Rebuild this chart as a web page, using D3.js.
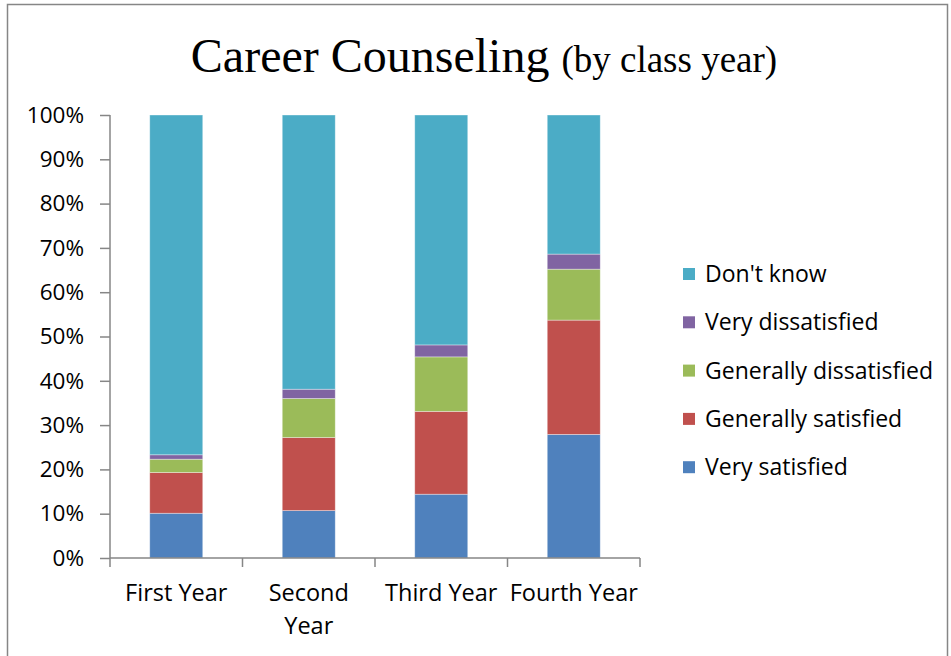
<!DOCTYPE html>
<html>
<head>
<meta charset="utf-8">
<script src="https://cdn.jsdelivr.net/npm/d3@7"></script>
<style>
  body { margin: 0; background: #fff; }
  svg text { fill: #000; }
</style>
</head>
<body>
<div id="chart"></div>
<script>
var years = ['First Year', 'Second Year', 'Third Year', 'Fourth Year'];
var yearLines = [['First Year'], ['Second', 'Year'], ['Third Year'], ['Fourth Year']];
var responses = ['Very satisfied', 'Generally satisfied', 'Generally dissatisfied', 'Very dissatisfied', "Don't know"];
var colors = ['#4F81BD', '#C0504D', '#9BBB59', '#8064A2', '#4BACC6'];

// percent per class year, bottom to top
var verySatisfied        = [10.1, 10.7, 14.4, 27.9];
var generallySatisfied   = [9.2, 16.5, 18.7, 25.8];
var generallyDissatisfied = [3.0, 8.8, 12.3, 11.5];
var veryDissatisfied     = [1.0, 2.1, 2.7, 3.4];
var dontKnow             = [76.7, 61.9, 51.9, 31.4];
var yTicks = [0, 10, 20, 30, 40, 50, 60, 70, 80, 90, 100];

var series = [verySatisfied, generallySatisfied, generallyDissatisfied, veryDissatisfied, dontKnow];

var width = 951, height = 656;
var margin = {left: 110, top: 115, right: 311, bottom: 98};
var plotW = width - margin.left - margin.right;
var plotH = height - margin.top - margin.bottom;
var labelFont = '"Open Sans", "Noto Sans", sans-serif';

var svg = d3.select('#chart').append('svg')
            .attr('width', width)
            .attr('height', height);

// outer frame
svg.append('rect')
   .attr('x', 7.5).attr('y', 4.5)
   .attr('width', 940).attr('height', 700)
   .attr('fill', 'none')
   .attr('stroke', '#868686')
   .attr('stroke-width', 1.5);

// title
var title = svg.append('text')
   .attr('x', 484).attr('y', 72)
   .attr('text-anchor', 'middle')
   .style('font-family', '"Liberation Serif", "Times New Roman", serif');
title.append('tspan').style('font-size', '48px').text('Career Counseling ');
title.append('tspan').style('font-size', '37px').text('(by class year)');

var table = years.map(function(y, i) {
  var row = {year: y};
  responses.forEach(function(r, k) { row[r] = series[k][i]; });
  return row;
});

var stack = d3.stack().keys(responses);
var layers = stack(table);

var x = d3.scaleBand()
          .domain(years)
          .range([0, plotW])
          .paddingInner(0.6)
          .paddingOuter(0.3);

var y = d3.scaleLinear()
          .domain([0, 100])
          .range([plotH, 0]);

var g = svg.append('g')
           .attr('transform', 'translate(' + margin.left + ',' + margin.top + ')');

// bars
g.selectAll('g.layer')
 .data(layers)
 .enter()
 .append('g')
 .attr('class', 'layer')
 .attr('fill', function(d, i) { return colors[i]; })
 .selectAll('rect')
 .data(function(d) { return d; })
 .enter()
 .append('rect')
 .attr('x', function(d) { return x(d.data.year); })
 .attr('y', function(d) { return y(d[1]); })
 .attr('width', x.bandwidth())
 .attr('height', function(d) { return y(d[0]) - y(d[1]); })
 .attr('stroke', 'rgba(255,255,255,0.45)')
 .attr('stroke-width', 0.8);

// y axis
var yAxis = d3.axisLeft(y)
              .tickValues(yTicks)
              .tickFormat(function(d) { return d + '%'; })
              .tickSize(10)
              .tickPadding(16);

var yg = g.append('g').call(yAxis);
yg.select('.domain').attr('stroke', '#868686').attr('stroke-width', 1.5)
  .attr('d', 'M0,' + plotH + 'V0');
yg.selectAll('.tick line').attr('stroke', '#868686').attr('stroke-width', 1.5);
yg.selectAll('.tick text')
  .style('font-family', labelFont)
  .style('font-size', '22.5px');

// x axis with ticks at category boundaries
var xg = g.append('g').attr('transform', 'translate(0,' + plotH + ')');
xg.append('line')
  .attr('x1', 0).attr('x2', plotW)
  .attr('stroke', '#868686').attr('stroke-width', 1.5);
var bounds = d3.range(years.length + 1).map(function(i) { return i * x.step(); });
xg.selectAll('line.bound')
  .data(bounds)
  .enter()
  .append('line')
  .attr('class', 'bound')
  .attr('x1', function(d) { return d; })
  .attr('x2', function(d) { return d; })
  .attr('y1', 0).attr('y2', 9)
  .attr('stroke', '#868686').attr('stroke-width', 1.5);

xg.selectAll('text.cat')
  .data(years)
  .enter()
  .append('text')
  .attr('class', 'cat')
  .attr('text-anchor', 'middle')
  .attr('transform', function(d) { return 'translate(' + (x(d) + x.bandwidth() / 2) + ',43)'; })
  .style('font-family', labelFont)
  .style('font-size', '23.5px')
  .selectAll('tspan')
  .data(function(d, i) { return yearLines[i]; })
  .enter()
  .append('tspan')
  .attr('x', 0)
  .attr('y', function(d, i) { return i * 33; })
  .text(function(d) { return d; });

// legend, top entry is the top of the stack
var legendOrder = responses.slice().reverse();
var legend = svg.append('g').attr('transform', 'translate(683,274)');
var items = legend.selectAll('g')
  .data(legendOrder)
  .enter()
  .append('g')
  .attr('transform', function(d, i) { return 'translate(0,' + (i * 48.3) + ')'; });
items.append('rect')
  .attr('x', 0).attr('y', -6)
  .attr('width', 12).attr('height', 12)
  .attr('fill', function(d) { return colors[responses.indexOf(d)]; });
items.append('text')
  .attr('x', 22).attr('y', 8)
  .style('font-family', labelFont)
  .style('font-size', '23px')
  .text(function(d) { return d; });
</script>
</body>
</html>
